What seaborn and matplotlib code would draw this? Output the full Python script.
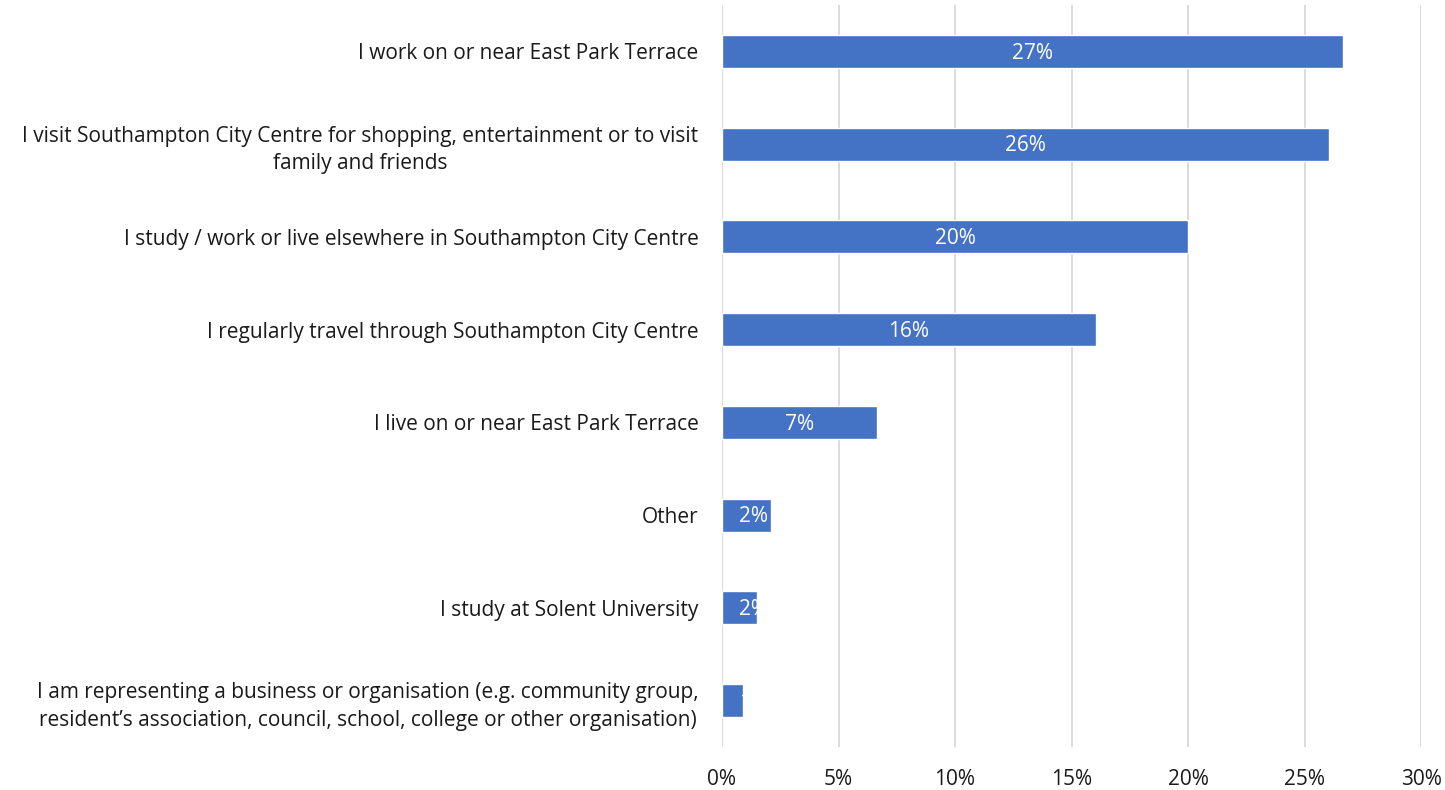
import matplotlib
matplotlib.use("Agg")
import matplotlib.pyplot as plt
import seaborn as sns
import pandas as pd

categories = [
    "I work on or near East Park Terrace",
    "I visit Southampton City Centre for shopping, entertainment or to visit\nfamily and friends",
    "I study / work or live elsewhere in Southampton City Centre",
    "I regularly travel through Southampton City Centre",
    "I live on or near East Park Terrace",
    "Other",
    "I study at Solent University",
    "I am representing a business or organisation (e.g. community group,\nresident\u2019s association, council, school, college or other organisation)",
]
values = [26.65, 26.05, 20.0, 16.05, 6.65, 2.1, 1.52, 0.92]
value_labels = ["27%", "26%", "20%", "16%", "7%", "2%", "2%", "1%"]
x_ticks = [0, 5, 10, 15, 20, 25, 30]
x_tick_labels = ["0%", "5%", "10%", "15%", "20%", "25%", "30%"]

df = pd.DataFrame({"category": categories, "value": values})

sns.set_theme(style="white")
plt.rcParams["font.family"] = ["Open Sans", "DejaVu Sans"]

fig = plt.figure(figsize=(14.45, 7.9), dpi=100)
ax = fig.add_axes([722 / 1445, 43 / 790, 699 / 1445, 742 / 790])

sns.barplot(data=df, x="value", y="category", orient="h", color="#4472C4",
            width=0.355, saturation=1, ax=ax, zorder=3)

ax.set_xlim(0, 30)
ax.set_ylim(len(categories) - 0.5, -0.5)
ax.set_xticks(x_ticks)
ax.set_xticklabels(x_tick_labels)
ax.set_xlabel("")
ax.set_ylabel("")
ax.grid(axis="x", color="#D9D9D9", linewidth=1.3, zorder=0)
ax.grid(axis="y", visible=False)
for s in ax.spines.values():
    s.set_visible(False)
ax.tick_params(axis="both", length=0, labelsize=15, colors="#1a1a1a")
ax.tick_params(axis="x", pad=16)
ax.tick_params(axis="y", pad=17)
for t in ax.get_yticklabels():
    t.set_multialignment("center")
    t.set_linespacing(1.4)

for i, (v, lab) in enumerate(zip(values, value_labels)):
    if v < 3:
        xpos, ha = 0.72, "left"
    else:
        xpos, ha = v / 2, "center"
    txt = ax.text(xpos, i + 0.02, lab, ha=ha, va="center", color="white",
                  fontsize=15, zorder=4)
    # clip the label to its bar (white text on white background elsewhere)
    txt.set_clip_path(ax.patches[i])

fig.savefig("out.png", dpi=100, facecolor="white")
